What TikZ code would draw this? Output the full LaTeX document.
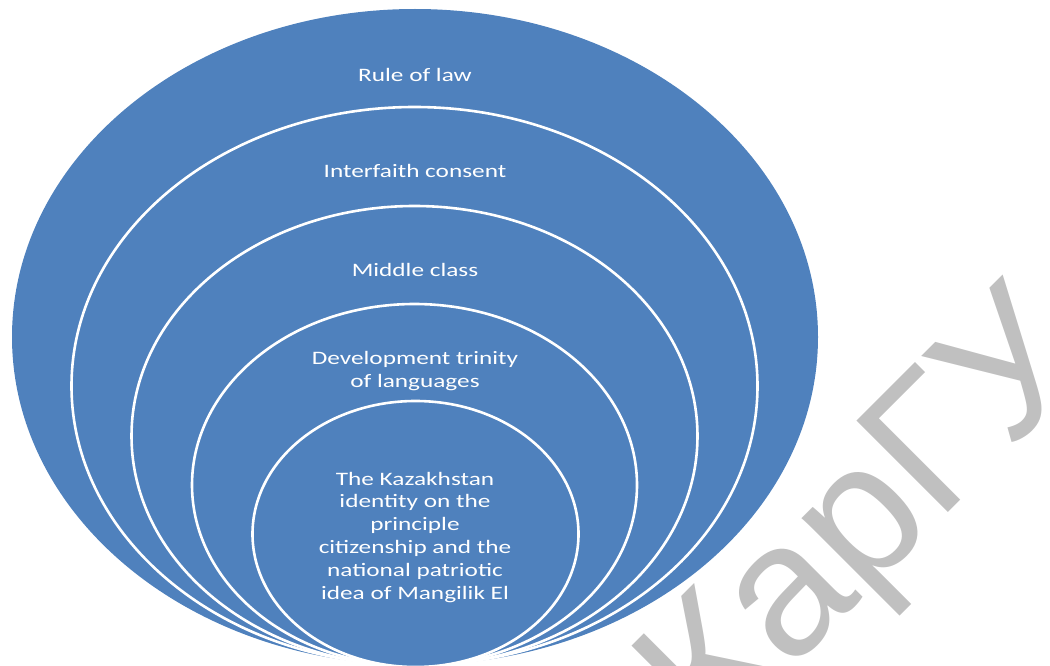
\documentclass[tikz,border=0pt]{standalone}
\usepackage{fontspec}
\setmainfont{Carlito}
\newfontfamily\wmfont{Liberation Sans}
\usetikzlibrary{shapes.geometric}
\definecolor{ringblue}{HTML}{4F81BD}
\definecolor{wmgray}{HTML}{C0C0C0}
\tikzset{
  ring/.style={ellipse, draw=white, line width=2.6pt, fill=ringblue, inner sep=0pt, outer sep=0pt},
  lbl/.style={text=white, font=\fontsize{19}{22.8}\selectfont, align=center, inner sep=0pt, xscale=1.33, anchor=base},
  wm/.style={text=wmgray, font=\wmfont\fontsize{188}{188}\selectfont, inner sep=0pt, anchor=base}
}
\begin{document}
\begin{tikzpicture}[x=1pt,y=-1pt]
\useasboundingbox (0,0) rectangle (1050,666);
\node[ring, draw=none, minimum width=806pt, minimum height=656pt] (e1) at (415,337) {};
\node[ring, minimum width=686pt, minimum height=558pt] (e2) at (414.5,386) {};
\node[ring, minimum width=566pt, minimum height=460pt] (e3) at (414.5,436) {};
\node[ring, minimum width=445pt, minimum height=362pt] (e4) at (414.5,485) {};
\node[ring, minimum width=326pt, minimum height=266pt] (e5) at (415.5,534) {};
\node[lbl] (t1) at (415,81.5) {Rule of law};
\node[lbl] (t2) at (415,178) {Interfaith consent};
\node[lbl] (t3) at (415,276.7) {Middle class};
\node[lbl] (t4) at (415,387.5) {Development trinity\\of languages};
\node[lbl] (t5) at (415,599) {The Kazakhstan\\identity on the\\principle\\citizenship and the\\national patriotic\\idea of Mangilik El};
\node[wm, rotate=45] (wm) at (903,558) {КарГУ};
\end{tikzpicture}
\end{document}
